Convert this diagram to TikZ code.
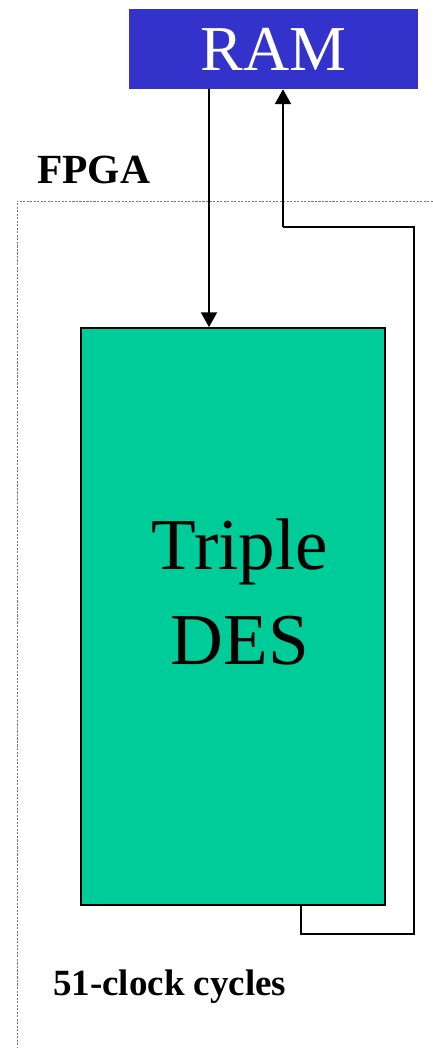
\documentclass[tikz,border=0pt]{standalone}
\usepackage{fontspec}
\setmainfont{Liberation Serif}
\usepackage{tikz}
\usetikzlibrary{positioning, arrows.meta, calc}
\definecolor{RamBlue}{RGB}{51,51,204}
\definecolor{DesGreen}{RGB}{0,204,153}
\definecolor{EdgeGray}{RGB}{120,120,120}

\begin{document}
\begin{tikzpicture}[
          blk/.style={rectangle, inner sep=0pt},
          lbl/.style={inner sep=0pt, anchor=base west},
          arr/.style={-{Triangle[length=0.37cm, width=0.4cm]}, black, line width=1.2pt},
          wire/.style={black, line width=1.2pt}
        ]
        \useasboundingbox (0,0) rectangle (10.825,-26.2);
        % FPGA border (only top and left edges visible)
        \draw[EdgeGray, line width=0.5pt, dash pattern=on 1.5pt off 1pt]
              (10.825,-5.025) -| (0.425,-26.2);
        \node[lbl, font=\fontsize{29.5}{34}\selectfont\bfseries]
              (fpga) at (0.925,-4.575) {FPGA};
        % RAM
        \node[blk, fill=RamBlue, minimum width=7.225cm, minimum height=2cm,
              text=white, font=\fontsize{45.5}{52}\selectfont]
              (ram) at (6.8375,-1.225) {RAM};
        % Triple DES core
        \node[blk, fill=DesGreen, draw=black, line width=1.2pt,
              minimum width=7.6cm, minimum height=14.425cm]
              (des) at (5.825,-15.4125) {};
        \node[align=center, font=\fontsize{52}{67.5}\selectfont]
              (desname) at (6.0,-14.81) {Triple\\DES};
        % RAM -> DES
        \coordinate (din) at (5.225,0);
        \draw[arr] (ram.south -| din) -- (des.north -| din);
        % DES -> RAM feedback
        \coordinate (dout) at (7.525,-23.35);
        \coordinate (loopr) at (10.35,-23.35);
        \coordinate (loopt) at (10.35,-5.675);
        \coordinate (rin) at (7.075,-5.675);
        \draw[wire] (des.south -| dout) -- (dout) -- (loopr) -- (loopt) -- (rin);
        \draw[arr] (rin) -- (ram.south -| rin);
        \node[lbl, font=\fontsize{26.3}{31}\selectfont\bfseries]
              (cycles) at (1.325,-24.875) {51-clock cycles};
      \end{tikzpicture}
\end{document}
